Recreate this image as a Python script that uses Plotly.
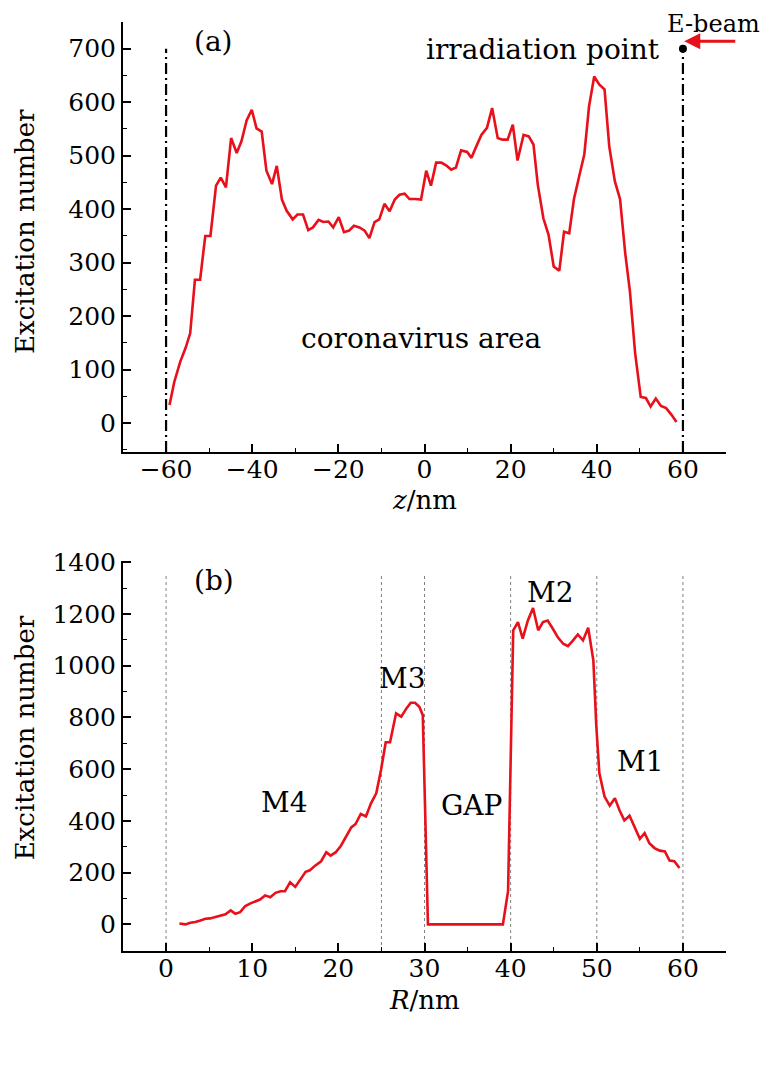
import plotly.graph_objects as go

# ---------------- Panel (a) data ----------------
z_a = [-59.2, -58.1, -56.7, -55.5, -54.4, -53.3, -52.1, -50.9, -49.7, -48.4,
       -47.3, -46.1, -44.9, -43.6, -42.5, -41.3, -40.1, -39.0, -37.8, -36.7,
       -35.4, -34.3, -33.1, -32.0, -30.6, -29.5, -28.2, -27.0, -25.9, -24.6,
       -23.5, -22.3, -21.2, -19.9, -18.7, -17.5, -16.4, -15.1, -13.9, -12.8,
       -11.6, -10.5, -9.3, -8.1, -6.9, -5.8, -4.6, -3.5, -2.1, -0.8,
       0.4, 1.5, 2.7, 3.9, 5.0, 6.2, 7.3, 8.5, 9.9, 10.9,
       12.0, 13.2, 14.5, 15.7, 17.0, 18.1, 19.3, 20.5, 21.6, 23.0,
       24.2, 25.3, 26.3, 27.6, 28.8, 30.0, 31.3, 32.4, 33.6, 34.7,
       35.9, 37.1, 38.2, 39.4, 40.6, 41.8, 42.9, 44.2, 45.4, 46.6,
       47.7, 48.9, 50.2, 51.4, 52.5, 53.7, 54.9, 56.1, 57.4, 58.5]
exc_a = [34, 77, 115, 140, 168, 268, 268, 350, 350, 444,
         459, 441, 533, 505, 527, 566, 586, 551, 545, 472,
         447, 481, 418, 397, 381, 390, 390, 361, 366, 380,
         376, 377, 366, 385, 357, 360, 369, 366, 360, 346,
         376, 381, 410, 396, 418, 427, 429, 419, 419, 418,
         472, 444, 487, 487, 482, 474, 478, 510, 507, 496,
         517, 539, 552, 589, 533, 530, 530, 558, 491, 539,
         536, 521, 446, 383, 352, 293, 285, 358, 355, 419,
         461, 502, 592, 648, 633, 624, 517, 452, 419, 318,
         246, 131, 49, 47, 31, 46, 32, 28, 15, 2]

# ---------------- Panel (b) data ----------------
R_b = [1.55, 2.24, 2.82, 3.4, 3.98, 4.56, 5.1, 5.7, 6.3, 6.9,
       7.5, 8.04, 8.6, 9.2, 9.8, 10.4, 10.9, 11.5, 12.1, 12.7,
       13.3, 13.8, 14.4, 15.0, 15.6, 16.2, 16.7, 17.3, 18.0, 18.6,
       19.1, 19.7, 20.3, 20.9, 21.5, 22.0, 22.6, 23.2, 23.8, 24.4,
       24.95, 25.5, 26.0, 26.7, 27.3, 27.9, 28.4, 28.9, 29.4, 29.8,
       30.4, 39.1, 39.7, 40.3, 40.85, 41.4, 42.0, 42.6, 43.2, 43.75,
       44.3, 44.9, 45.5, 46.1, 46.65, 47.2, 47.8, 48.4, 49.0, 49.6,
       49.95, 50.3, 50.9, 51.5, 52.1, 52.65, 53.2, 53.8, 54.4, 55.0,
       55.55, 56.1, 56.7, 57.3, 57.9, 58.45, 59.0, 59.6]
exc_b = [3, 0, 6, 9, 15, 22, 23, 28, 35, 39,
         54, 41, 47, 71, 81, 90, 96, 112, 105, 122,
         128, 128, 163, 145, 176, 203, 209, 227, 244, 279,
         266, 279, 304, 340, 375, 388, 427, 417, 469, 507,
         597, 704, 704, 816, 803, 835, 857, 857, 841, 809,
         0, 0, 128, 1137, 1169, 1105, 1175, 1223, 1137, 1169,
         1175, 1143, 1109, 1085, 1076, 1096, 1121, 1098, 1147, 1021,
         764, 584, 494, 459, 488, 440, 402, 420, 373, 331,
         353, 314, 295, 285, 282, 247, 244, 218]

# region boundaries / markers
dashdot_a = [-60, 60]
dashdot_top_a = 700
irradiation_point = (60, 700)
region_lines_b = [0, 25, 30, 40, 50, 60]
region_top_b = 1350

range_xa = [-70, 70]
range_ya = [-54, 750]
range_xb = [-5, 65]
range_yb = [-103, 1405]

RED = "#e8101a"
FONT = "DejaVu Serif"
TICKSIZE = 25
TEXTSIZE = 28
TITLESIZE = 26

fig = go.Figure()
fig.add_trace(go.Scatter(x=z_a, y=exc_a, mode="lines",
                         line=dict(color=RED, width=2.6),
                         xaxis="x", yaxis="y", showlegend=False))
fig.add_trace(go.Scatter(x=R_b, y=exc_b, mode="lines",
                         line=dict(color=RED, width=2.6),
                         xaxis="x2", yaxis="y2", showlegend=False))
fig.add_trace(go.Scatter(x=[irradiation_point[0]], y=[irradiation_point[1]],
                         mode="markers", marker=dict(color="black", size=8),
                         xaxis="x", yaxis="y", showlegend=False))

shapes = []
for xv in dashdot_a:
    shapes.append(dict(type="line", xref="x", yref="y", x0=xv, x1=xv,
                       y0=range_ya[0], y1=dashdot_top_a,
                       line=dict(color="black", width=2.2, dash="11px,4px,2px,4px"),
                       layer="below"))
for xv in region_lines_b:
    shapes.append(dict(type="line", xref="x2", yref="y2", x0=xv, x1=xv,
                       y0=range_yb[0], y1=region_top_b,
                       line=dict(color="#808080", width=1, dash="dot"),
                       layer="below"))

axis_common = dict(showline=True, linecolor="black", linewidth=2,
                   ticks="inside", tickcolor="black", tickwidth=1.6, ticklen=8,
                   showgrid=False, zeroline=False, mirror=False,
                   tickfont=dict(family=FONT, size=TICKSIZE, color="black"))

minor_common = dict(ticks="inside", tick0=0, ticklen=4, tickwidth=1.4,
                    tickcolor="black")

fig.update_layout(
    width=780, height=1066,
    margin=dict(l=115, r=62, t=14, b=123, autoexpand=False),
    plot_bgcolor="white", paper_bgcolor="white",
    font=dict(family=FONT, color="black"),
    shapes=shapes,
    xaxis=dict(axis_common, domain=[0, 1], anchor="y", range=range_xa,
               tick0=0, dtick=20, ticklabelstandoff=-6,
               minor=dict(minor_common, dtick=10)),
    yaxis=dict(axis_common, domain=[0.5371, 1], anchor="x", range=range_ya,
               tick0=0, dtick=100,
               minor=dict(minor_common, dtick=50)),
    xaxis2=dict(axis_common, domain=[0, 1], anchor="y2", range=range_xb,
                tick0=0, dtick=10, ticklabelstandoff=-6,
                minor=dict(minor_common, dtick=5)),
    yaxis2=dict(axis_common, domain=[0, 0.4198], anchor="x2", range=range_yb,
                tick0=0, dtick=200,
                minor=dict(minor_common, dtick=100)),
)

def txt(x, y, s, xref="x", yref="y", size=TEXTSIZE, xanchor="center",
        yanchor="middle", angle=0):
    fig.add_annotation(x=x, y=y, xref=xref, yref=yref, text=s, showarrow=False,
                       xanchor=xanchor, yanchor=yanchor, textangle=angle,
                       borderpad=0,
                       font=dict(family=FONT, size=size, color="black"))

# axis titles
txt(-0.1625, 0.774, "Excitation number", xref="paper", yref="paper",
    size=TITLESIZE, angle=-90)
txt(-0.1625, 0.229, "Excitation number", xref="paper", yref="paper",
    size=TITLESIZE, angle=-90)
txt(0.5, 0.4855, "<i>z</i>/nm", xref="paper", yref="paper", size=TITLESIZE)
txt(0.5, -0.0527, "<i>R</i>/nm", xref="paper", yref="paper", size=TITLESIZE)

# panel (a) texts
txt(-49.1, 713, "(a)")
txt(54.9, 698, "irradiation point", xanchor="right")
txt(67.0, 1.0141, "E-beam", yref="paper", size=24, yanchor="top")
txt(-0.9, 159, "coronavirus area")

fig.add_annotation(x=60.3, y=714, ax=72.5, ay=714, xref="x", yref="y",
                   axref="x", ayref="y", text="", showarrow=True,
                   arrowhead=2, arrowsize=1, arrowwidth=3.2, arrowcolor=RED,
                   standoff=0)

# panel (b) texts
txt(5.6, 1329, "(b)", xref="x2", yref="y2")
txt(27.4, 952, "M3", xref="x2", yref="y2")
txt(13.7, 470, "M4", xref="x2", yref="y2")
txt(35.5, 459, "GAP", xref="x2", yref="y2")
txt(44.6, 1283, "M2", xref="x2", yref="y2")
txt(55.0, 628, "M1", xref="x2", yref="y2")

fig.write_html("out.html")
